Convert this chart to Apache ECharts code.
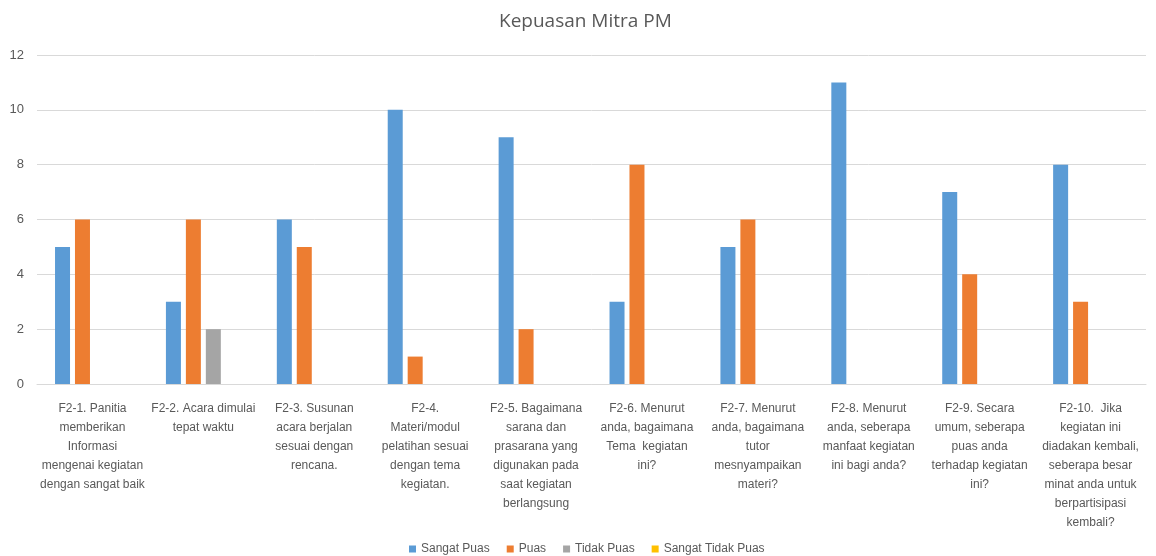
<!DOCTYPE html>
<html><head><meta charset="utf-8">
<script src="https://cdn.jsdelivr.net/npm/echarts@6/dist/echarts.min.js"></script>
<style>html,body{margin:0;padding:0;background:#fff}#c{width:1156px;height:556px}</style>
</head><body><div id="c"></div>
<script>
const categories = [
  "F2-1. Panitia\nmemberikan\nInformasi\nmengenai kegiatan\ndengan sangat baik",
  "F2-2. Acara dimulai\ntepat waktu",
  "F2-3. Susunan\nacara berjalan\nsesuai dengan\nrencana.",
  "F2-4.\nMateri/modul\npelatihan sesuai\ndengan tema\nkegiatan.",
  "F2-5. Bagaimana\nsarana dan\nprasarana yang\ndigunakan pada\nsaat kegiatan\nberlangsung",
  "F2-6. Menurut\nanda, bagaimana\nTema  kegiatan\nini?",
  "F2-7. Menurut\nanda, bagaimana\ntutor\nmesnyampaikan\nmateri?",
  "F2-8. Menurut\nanda, seberapa\nmanfaat kegiatan\nini bagi anda?",
  "F2-9. Secara\numum, seberapa\npuas anda\nterhadap kegiatan\nini?",
  "F2-10.  Jika\nkegiatan ini\ndiadakan kembali,\nseberapa besar\nminat anda untuk\nberpartisipasi\nkembali?"
];
const seriesNames = ["Sangat Puas", "Puas", "Tidak Puas", "Sangat Tidak Puas"];
const sangatPuas = [5, 3, 6, 10, 9, 3, 5, 11, 7, 8];
const puas = [6, 6, 5, 1, 2, 8, 6, 0, 4, 3];
const tidakPuas = [0, 2, 0, 0, 0, 0, 0, 0, 0, 0];
const sangatTidakPuas = [0, 0, 0, 0, 0, 0, 0, 0, 0, 0];
const yTicks = [0, 2, 4, 6, 8, 10, 12];

const colors = ["#5b9bd5", "#ed7d31", "#a5a5a5", "#ffc000"];
const font = "Liberation Sans";
const chart = echarts.init(document.getElementById('c'), null, {renderer: 'canvas'});
const dataSets = [sangatPuas, puas, tidakPuas, sangatTidakPuas];
chart.setOption({
  animation: false,
  color: colors,
  title: {
    text: "Kepuasan Mitra PM", left: 494, top: 7,
    textStyle: {fontFamily: "Open Sans", fontSize: 19, fontWeight: 'normal', color: '#595959'}
  },
  legend: {
    data: seriesNames, top: 538, left: 404,
    icon: 'rect', itemWidth: 7, itemHeight: 7, itemGap: 17,
    textStyle: {fontFamily: font, fontSize: 12, color: '#595959'}
  },
  grid: {left: 37, right: 10, top: 55, bottom: 172, containLabel: false},
  xAxis: {
    type: 'category', data: categories,
    axisLine: {lineStyle: {color: '#d9d9d9'}},
    axisTick: {show: false},
    axisLabel: {interval: 0, margin: 15, fontFamily: font, fontSize: 12, color: '#595959', lineHeight: 19, align: 'center'}
  },
  yAxis: {
    type: 'value', min: yTicks[0], max: yTicks[yTicks.length - 1], interval: 2,
    axisLine: {show: false}, axisTick: {show: false},
    splitLine: {lineStyle: {color: '#d9d9d9'}},
    axisLabel: {fontFamily: font, fontSize: 13, color: '#595959', margin: 13}
  },
  series: seriesNames.map((n, i) => ({
    name: n, type: 'bar', data: dataSets[i].map(v => v === 0 ? null : v),
    barWidth: 15, barGap: '33%'
  }))
});
</script></body></html>
